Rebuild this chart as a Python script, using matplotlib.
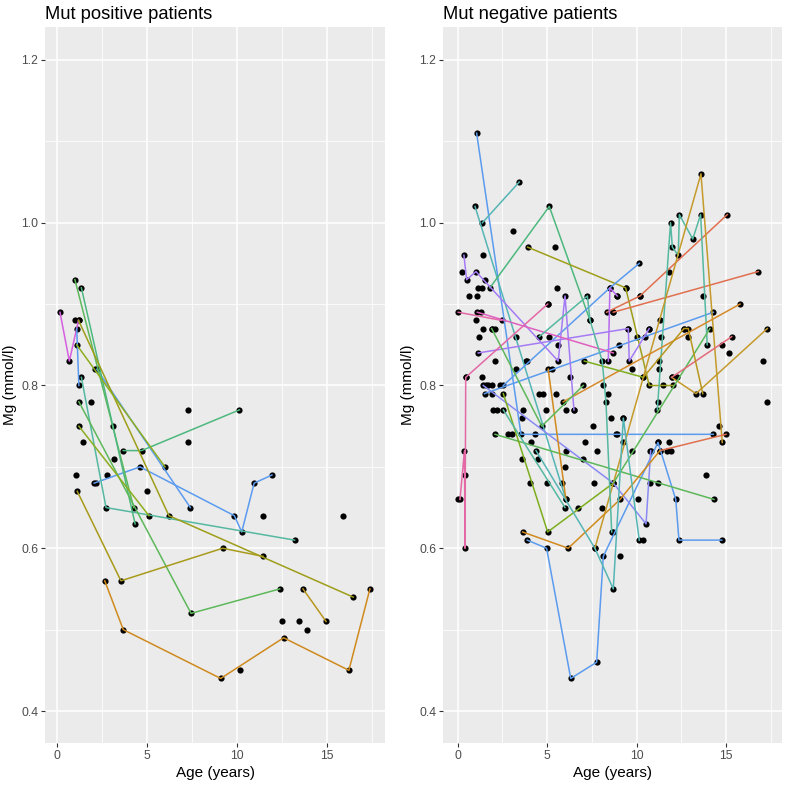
import numpy as np
import matplotlib.pyplot as plt

plt.rcParams['font.family'] = ['Liberation Sans', 'DejaVu Sans']

# ---- data: Mut positive patients (age in years, Mg in mmol/l) ----
pos_lines = [
    ([0.15, 0.67, 1.18], [0.89, 0.83, 0.88], '#D65FE0'),
    ([1.08, 1.2], [0.87, 0.80], '#5B9BEF'),
    ([2.2, 7.4], [0.82, 0.65], '#5B9BEF'),
    ([2.05, 4.6, 9.85, 10.26, 10.95, 11.94], [0.68, 0.70, 0.64, 0.62, 0.68, 0.69], '#5B9BEF'),
    ([1.34, 2.71, 13.2], [0.81, 0.65, 0.61], '#55B8A0'),
    ([3.67, 4.69, 10.13], [0.72, 0.72, 0.77], '#4DB87E'),
    ([0.98, 4.25], [0.93, 0.65], '#5DB85A'),
    ([1.34, 4.33], [0.92, 0.63], '#4DB87E'),
    ([1.2, 7.44, 12.37], [0.78, 0.52, 0.55], '#5DB85A'),
    ([1.2, 5.1], [0.75, 0.64], '#8DAE1E'),
    ([1.18, 6.21, 16.46], [0.88, 0.64, 0.54], '#9E9E1A'),
    ([1.08, 5.99], [0.85, 0.70], '#8DAE1E'),
    ([1.11, 3.54, 9.2, 11.45], [0.67, 0.56, 0.60, 0.59], '#A89A1A'),
    ([2.64, 3.67, 9.09, 12.59, 16.22, 17.39], [0.56, 0.50, 0.44, 0.49, 0.45, 0.55], '#CF8A1E'),
    ([13.67, 14.95], [0.55, 0.51], '#B8961E'),
]
pos_x_extra = [1.0, 1.9, 7.25, 3.08, 1.41, 7.25, 3.17, 1.04, 2.75, 2.13, 4.97,
               11.45, 15.87, 12.5, 13.46, 13.9, 10.18, 2.1]
pos_y_extra = [0.88, 0.78, 0.77, 0.75, 0.73, 0.73, 0.71, 0.69, 0.69, 0.68, 0.67,
               0.64, 0.64, 0.51, 0.51, 0.50, 0.45, 0.82]

# ---- data: Mut negative patients ----
neg_lines = [
    ([1.06, 3.54, 14.29], [1.11, 0.74, 0.74], '#5B9BEF'),
    ([3.89, 4.97, 6.32, 7.77, 8.14, 11.2, 12.19, 12.37, 14.76],
     [0.61, 0.60, 0.44, 0.46, 0.59, 0.73, 0.66, 0.61, 0.61], '#5B9BEF'),
    ([1.38, 3.44], [1.00, 1.05], '#55B5B5'),
    ([0.97, 6.05], [1.02, 0.66], '#55B5B5'),
    ([1.8, 5.12, 7.4], [0.92, 1.02, 0.88], '#4DB87E'),
    ([3.91, 9.39, 10.71, 12.05], [0.97, 0.92, 0.80, 0.80], '#9E9E1A'),
    ([8.33, 10.19, 15.07], [0.89, 0.91, 1.01], '#E0704F'),
    ([8.7, 16.8], [0.89, 0.94], '#E0704F'),
    ([2.55, 8.51, 10.15], [0.80, 0.92, 0.95], '#5B9BEF'),
    ([1.5, 14.29], [0.79, 0.89], '#5B9BEF'),
    ([11.16, 11.9, 12.0, 12.33, 12.39, 13.14, 13.58, 13.95],
     [0.77, 1.00, 0.97, 0.96, 1.01, 0.98, 1.01, 0.85], '#55B8A0'),
    ([7.67, 13.6, 14.79], [0.60, 1.06, 0.73], '#C49A2A'),
    ([5.9, 15.78], [0.78, 0.90], '#D68A2A'),
    ([11.96, 13.32, 17.31], [0.81, 0.79, 0.87], '#C49A2A'),
    ([8.7, 14.1], [0.68, 0.87], '#5DB85A'),
    ([11.96, 15.32], [0.81, 0.86], '#E46A7A'),
    ([11.31, 15.0], [0.72, 0.74], '#E0704F'),
    ([8.42, 8.51, 8.92], [0.83, 0.92, 0.91], '#B86BF0'),
    ([1.15, 9.54, 9.59, 10.71], [0.84, 0.87, 0.83, 0.87], '#A57BF5'),
    ([0.35, 0.5, 1.02, 5.62, 6.0, 6.5], [0.96, 0.93, 0.94, 0.83, 0.91, 0.77], '#A57BF5'),
    ([0.13, 0.38, 0.41, 0.45, 5.03], [0.66, 0.72, 0.60, 0.81, 0.90], '#E468A6'),
    ([0.03, 2.46], [0.89, 0.88], '#E468A6'),
    ([1.1, 8.7], [0.89, 0.84], '#E060C0'),
    ([1.43, 8.7, 10.53, 10.79], [0.80, 0.68, 0.63, 0.72], '#8A8AF5'),
    ([2.09, 14.33], [0.74, 0.66], '#5DB85A'),
    ([2.55, 5.03, 8.7], [0.79, 0.62, 0.68], '#7CAE1E'),
    ([3.63, 6.18, 9.08, 11.31], [0.62, 0.60, 0.66, 0.72], '#D08A1E'),
    ([5.06, 6.05], [0.82, 0.66], '#D08A1E'),
    ([2.55, 6.0], [0.77, 0.65], '#55B8A0'),
    ([4.38, 7.67, 8.7, 9.26, 10.15], [0.72, 0.60, 0.55, 0.76, 0.61], '#55B5B5'),
    ([7.08, 10.38], [0.83, 0.81], '#7CAE1E'),
    ([1.9, 4.7, 7.02], [0.87, 0.75, 0.80], '#5DB85A'),
    ([4.56, 7.25, 7.4, 8.08, 8.29, 8.61], [0.86, 0.91, 0.88, 0.83, 0.78, 0.62], '#55B8A0'),
    ([10.38, 12.65, 12.89, 13.7], [0.81, 0.87, 0.87, 0.79], '#B8961E'),
]
neg_x_extra = [3.07, 5.46, 1.43, 0.22, 1.53, 1.12, 1.38, 5.53, 0.63, 1.06, 8.92, 5.03,
               1.28, 8.7, 1.02, 1.43, 1.9, 2.09, 1.21, 3.24, 5.12, 5.62, 2.09, 3.82,
               9.39, 10.19, 13.73, 11.31, 9.54, 10.71, 12.65, 10.0, 10.47, 11.35,
               12.89, 9.03, 14.79, 15.18, 9.72, 11.27, 11.27, 17.08, 11.83, 12.24,
               0.45, 1.34, 1.6, 1.9, 2.36, 3.26, 3.86, 5.25, 6.28, 8.1, 1.9, 4.56,
               4.79, 5.49, 8.38, 1.99, 2.18, 3.67, 4.94, 6.05, 6.5, 3.58, 8.55, 7.58,
               2.83, 3.02, 4.32, 8.89, 4.1, 7.12, 6.05, 7.8, 3.58, 4.51, 7.02, 6.0,
               0.41, 4.04, 4.97, 5.81, 7.64, 6.74, 8.05, 11.49, 17.31, 11.21, 9.26,
               14.6, 8.85, 9.26, 11.21, 11.81, 9.74, 10.75, 11.68, 11.9, 13.86,
               10.75, 11.18, 10.06, 8.66, 10.34, 9.07, 0.0, 1.7]
neg_y_extra = [0.99, 0.97, 0.96, 0.94, 0.93, 0.92, 0.92, 0.92, 0.91, 0.91, 0.91, 0.90,
               0.89, 0.89, 0.88, 0.87, 0.87, 0.87, 0.86, 0.86, 0.86, 0.85, 0.83, 0.83,
               0.92, 0.91, 0.91, 0.88, 0.87, 0.87, 0.87, 0.86, 0.86, 0.86,
               0.86, 0.85, 0.85, 0.84, 0.82, 0.83, 0.82, 0.83, 0.94, 0.81,
               0.81, 0.81, 0.80, 0.80, 0.80, 0.82, 0.83, 0.82, 0.81, 0.80, 0.79, 0.79,
               0.79, 0.79, 0.79, 0.77, 0.77, 0.77, 0.77, 0.77, 0.77, 0.76, 0.76, 0.75,
               0.74, 0.74, 0.74, 0.74, 0.73, 0.73, 0.72, 0.72, 0.71, 0.71, 0.71, 0.70,
               0.69, 0.68, 0.68, 0.68, 0.68, 0.65, 0.65, 0.80, 0.78, 0.78, 0.76,
               0.75, 0.74, 0.73, 0.73, 0.73, 0.72, 0.72, 0.72, 0.72, 0.69,
               0.68, 0.68, 0.66, 0.62, 0.61, 0.59, 0.66, 0.80]

titles = ['Mut positive patients', 'Mut negative patients']

fig = plt.figure(figsize=(7.85, 7.85), dpi=100)
ax1 = fig.add_axes([45 / 785, 1 - 743 / 785, 340 / 785, 716 / 785])
ax2 = fig.add_axes([443 / 785, 1 - 743 / 785, 339 / 785, 716 / 785])


def draw_panel(ax, lines, xe, ye, title, xlim):
    ax.set_facecolor('#EBEBEB')
    for s in ax.spines.values():
        s.set_visible(False)
    ax.set_xlim(*xlim)
    ax.set_ylim(0.3607, 1.2405)
    ax.set_xticks([0, 5, 10, 15])
    ax.set_xticks([2.5, 7.5, 12.5, 17.5], minor=True)
    ax.set_yticks([0.4, 0.6, 0.8, 1.0, 1.2])
    ax.set_yticks([0.5, 0.7, 0.9, 1.1], minor=True)
    ax.grid(which='major', color='white', linewidth=1.1)
    ax.grid(which='minor', color='white', linewidth=0.55)
    ax.set_axisbelow(True)
    ax.tick_params(which='major', length=2.75, width=0.8, color='#333333',
                   labelsize=8.8, labelcolor='#4D4D4D', pad=2)
    ax.tick_params(which='minor', length=0)
    ax.set_xlabel('Age (years)', fontsize=11, labelpad=3)
    ax.set_ylabel('Mg (mmol/l)', fontsize=11, labelpad=3)
    ax.set_title(title, loc='left', fontsize=13.2, pad=6)

    px, py = list(xe), list(ye)
    for xs, ys, c in lines:
        px += xs
        py += ys
    ax.scatter(px, py, s=20, color='black', linewidths=0, zorder=2)
    for xs, ys, c in lines:
        ax.plot(xs, ys, color=c, linewidth=1.1, zorder=3)


draw_panel(ax1, pos_lines, pos_x_extra, pos_y_extra, titles[0], (-0.684, 18.23))
draw_panel(ax2, neg_lines, neg_x_extra, neg_y_extra, titles[1], (-0.82, 18.13))

fig.savefig('out.png', dpi=100)
